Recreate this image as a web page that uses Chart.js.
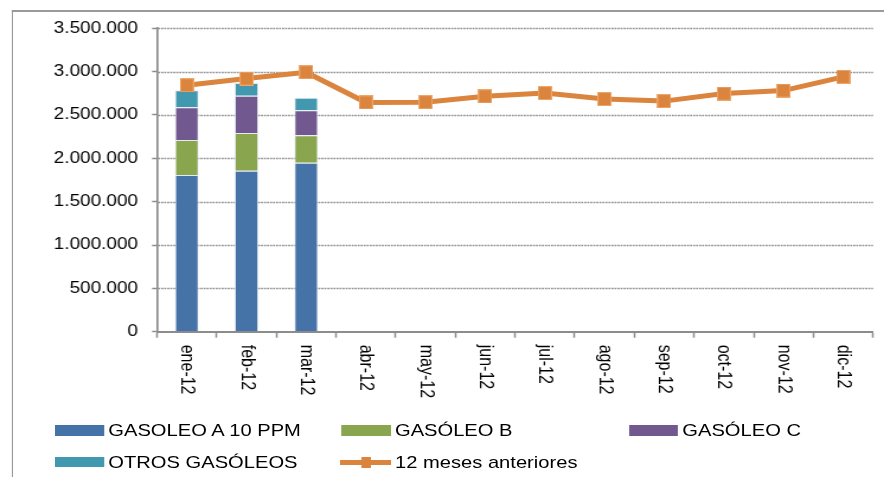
<!DOCTYPE html>
<html>
<head>
<meta charset="utf-8">
<script src="https://cdn.jsdelivr.net/npm/chart.js@4"></script>
<style>
  html, body { margin: 0; padding: 0; background: #fff; overflow: hidden; }
  #stage { position: absolute; left: 0; top: 0; width: 746px; height: 477px;
           transform: scaleX(1.185); transform-origin: 0 0; }
  #frame { position: absolute; left: 9.5px; top: 10px; right: -6px; bottom: -6px;
           border-left: 1.7px solid #9a9a9a; border-top: 2px solid #9a9a9a; }
  #chart { position: absolute; left: 0; top: 0; }
  .key { position: absolute; }
  .txt { position: absolute; font: 17px "Liberation Sans", Arial, sans-serif; color: #000;
         white-space: nowrap; line-height: 20px; height: 20px; }
</style>
</head>
<body>
<div id="stage">
  <div id="frame"></div>
  <canvas id="chart" width="746" height="477"></canvas>
  <div id="legend"></div>
</div>
<script>
// Monthly diesel consumption 2012 (stacked) vs. previous 12 months
const months = ['ene-12', 'feb-12', 'mar-12', 'abr-12', 'may-12', 'jun-12',
                'jul-12', 'ago-12', 'sep-12', 'oct-12', 'nov-12', 'dic-12'];

const gasoleoA10 = [1808000, 1857000, 1950000, null, null, null, null, null, null, null, null, null];
const gasoleoB   = [403000, 435000, 316000, null, null, null, null, null, null, null, null, null];
const gasoleoC   = [378000, 430000, 288000, null, null, null, null, null, null, null, null, null];
const otros      = [196000, 147000, 145000, null, null, null, null, null, null, null, null, null];
const previous12 = [2843000, 2920000, 2993000, 2645000, 2648000, 2715000,
                    2753000, 2684000, 2660000, 2747000, 2782000, 2940000];

const yTicks = [0, 500000, 1000000, 1500000, 2000000, 2500000, 3000000, 3500000];

const seriesNames  = ['GASOLEO A 10 PPM', 'GASÓLEO B', 'GASÓLEO C', 'OTROS GASÓLEOS', '12 meses anteriores'];
const seriesColors = ['#4572A7', '#89A54E', '#71588F', '#4198AF', '#DB843D'];

const FONT = '"Liberation Sans", Arial, sans-serif';

function thousands(v) {
  return String(v).replace(/\B(?=(\d{3})+(?!\d))/g, '.');
}

// square marker for the line series (narrowed to compensate the stage stretch)
function makeMarker(w, h, color) {
  const c = document.createElement('canvas');
  c.width = w; c.height = h;
  const g = c.getContext('2d');
  g.fillStyle = color;
  g.fillRect(0, 0, w, h);
  g.strokeStyle = 'rgba(240,170,110,0.9)';
  g.lineWidth = 1;
  g.strokeRect(0.5, 0.5, w - 1, h - 1);
  return c;
}
const marker = makeMarker(12, 14, seriesColors[4]);

// month labels rotated clockwise, starting just below the axis
const monthLabels = {
  id: 'monthLabels',
  afterDraw(chart) {
    const xs = chart.scales.x;
    const c = chart.ctx;
    c.save();
    c.font = '16px ' + FONT;
    c.fillStyle = '#000';
    c.textAlign = 'left';
    c.textBaseline = 'middle';
    xs.ticks.forEach((t, i) => {
      c.save();
      c.translate(xs.getPixelForTick(i), xs.top + 13);
      c.rotate(Math.PI / 2);
      c.fillText(xs.getLabelForValue(t.value), 0, 0);
      c.restore();
    });
    c.restore();
  }
};

// dotted horizontal gridlines across the plot area
const dottedGrid = {
  id: 'dottedGrid',
  beforeDatasetsDraw(chart) {
    const ys = chart.scales.y;
    const { left, right } = chart.chartArea;
    const c = chart.ctx;
    c.save();
    c.strokeStyle = '#8f8f8f';
    c.lineWidth = 1.3;
    c.setLineDash([1.7, 0.85]);
    ys.ticks.forEach(t => {
      if (t.value === 0) return;
      const y = Math.round(ys.getPixelForValue(t.value)) + 0.5;
      c.beginPath();
      c.moveTo(left + 1, y);
      c.lineTo(right, y);
      c.stroke();
    });
    c.restore();
  }
};

const barStyle = { borderColor: 'rgba(225,232,240,0.9)', borderWidth: 1, order: 1, stack: 'consumo' };

new Chart(document.getElementById('chart'), {
  type: 'bar',
  data: {
    labels: months,
    datasets: [
      { type: 'line', label: seriesNames[4], data: previous12, borderColor: seriesColors[4],
        borderWidth: 5, pointStyle: marker, tension: 0, order: 0 },
      Object.assign({ label: seriesNames[0], data: gasoleoA10, backgroundColor: seriesColors[0] }, barStyle),
      Object.assign({ label: seriesNames[1], data: gasoleoB,   backgroundColor: seriesColors[1] }, barStyle),
      Object.assign({ label: seriesNames[2], data: gasoleoC,   backgroundColor: seriesColors[2] }, barStyle),
      Object.assign({ label: seriesNames[3], data: otros,      backgroundColor: seriesColors[3] }, barStyle)
    ]
  },
  options: {
    responsive: false,
    animation: false,
    layout: { padding: { top: 28.3, right: 9.3, left: 0, bottom: 0 } },
    plugins: { legend: { display: false }, tooltip: { enabled: false } },
    datasets: { bar: { categoryPercentage: 1, barPercentage: 0.4 } },
    scales: {
      x: {
        stacked: true,
        offset: true,
        grid: { offset: true, drawOnChartArea: false, drawTicks: true, tickLength: 6,
                tickColor: '#8c8c8c', tickWidth: 1.5 },
        border: { color: '#8c8c8c', width: 2 },
        ticks: { display: false },
        afterFit(s) { s.height = 145.3; }
      },
      y: {
        stacked: true,
        min: yTicks[0],
        max: yTicks[yTicks.length - 1],
        afterBuildTicks(s) { s.ticks = yTicks.map(v => ({ value: v })); },
        ticks: { padding: 11.8, color: '#000', font: { family: FONT, size: 16 },
                 callback: v => thousands(v) },
        grid: { drawOnChartArea: false, tickLength: 4.2, tickColor: '#8c8c8c', tickWidth: 1.5 },
        border: { color: '#8c8c8c', width: 1.7 },
        afterFit(s) { s.width = 132.5; }
      }
    }
  },
  plugins: [dottedGrid, monthLabels]
});

// legend laid out in three fixed columns, two rows
const legend = document.getElementById('legend');
const colX = [46.4, 288.3, 530.8];
const rowY = [430.5, 462];
seriesNames.forEach((name, i) => {
  const col = i < 3 ? i : i - 3;
  const row = i < 3 ? 0 : 1;
  const x = colX[col], cy = rowY[row];
  if (i < 4) {
    const k = document.createElement('div');
    k.className = 'key';
    Object.assign(k.style, { left: x + 'px', top: (cy - 5.3) + 'px', width: '41.4px',
                             height: '10.7px', background: seriesColors[i] });
    legend.appendChild(k);
  } else {
    const ln = document.createElement('div');
    ln.className = 'key';
    Object.assign(ln.style, { left: (x - 1) + 'px', top: (cy - 2.5) + 'px', width: '43px',
                              height: '5px', background: seriesColors[i] });
    legend.appendChild(ln);
    const mk = document.createElement('div');
    mk.className = 'key';
    Object.assign(mk.style, { left: (x + 16.5) + 'px', top: (cy - 5.5) + 'px', width: '8.5px',
                              height: '11px', background: seriesColors[i] });
    legend.appendChild(mk);
  }
  const t = document.createElement('div');
  t.className = 'txt';
  t.textContent = name;
  Object.assign(t.style, { left: (x + 45) + 'px', top: (cy - 9.5) + 'px' });
  legend.appendChild(t);
});
</script>
</body>
</html>
